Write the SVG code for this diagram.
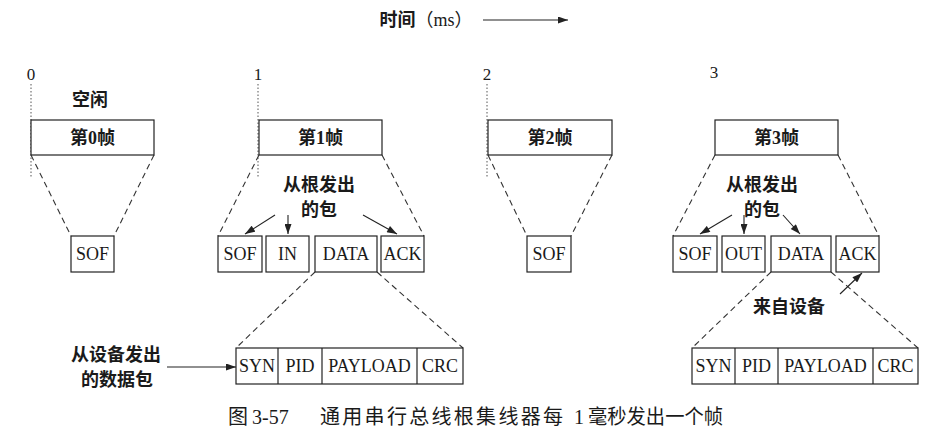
<svg xmlns="http://www.w3.org/2000/svg" width="938" height="439" viewBox="0 0 938 439">
<defs>
<style>
.bx{fill:#fff;stroke:#222;stroke-width:1.2}
.dash{fill:none;stroke:#333;stroke-width:1.1;stroke-dasharray:6,4}
.dot{fill:none;stroke:#555;stroke-width:1;stroke-dasharray:1.5,2}
.arr{fill:none;stroke:#222;stroke-width:1.1;marker-end:url(#ah)}
.sep{stroke:#222;stroke-width:1.2}
.lb{font-family:"Liberation Serif","Noto Sans CJK SC",serif;font-weight:bold;font-size:18px;fill:#1a1a1a;text-anchor:middle}
.pk{font-family:"Liberation Serif",serif;font-size:18px;fill:#1a1a1a;text-anchor:middle}
.num{font-family:"Liberation Serif",serif;font-size:17px;fill:#1a1a1a;text-anchor:middle}
.cap{font-family:"Liberation Serif","Noto Sans CJK SC",serif;font-size:20px;fill:#1a1a1a}
</style>
<marker id="ah" viewBox="0 0 10 7" refX="10" refY="3.5" markerWidth="11" markerHeight="7" markerUnits="userSpaceOnUse" orient="auto">
<path d="M0,0 L10,3.5 L0,7 z" fill="#222"/>
</marker>
</defs>
<rect width="938" height="439" fill="#fff"/>

<g id="time-axis">
<text class="lb" x="426" y="26">时间<tspan font-weight="normal">（ms）</tspan></text>
<text class="num" x="31" y="80">0</text>
<text class="num" x="258" y="80">1</text>
<text class="num" x="487" y="80">2</text>
<text class="num" x="714" y="78">3</text>
</g>

<g id="connectors">
<line class="arr" x1="483" y1="20" x2="568" y2="20"/>
<line class="dot" x1="31" y1="84" x2="31" y2="178"/>
<line class="dot" x1="258" y1="84" x2="258" y2="178"/>
<line class="dot" x1="487" y1="84" x2="487" y2="178"/>
<line class="dash" x1="31" y1="155" x2="71" y2="236"/>
<line class="dash" x1="154" y1="155" x2="114" y2="236"/>
<line class="dash" x1="259" y1="155" x2="218" y2="236"/>
<line class="dash" x1="382" y1="155" x2="424" y2="236"/>
<line class="arr" x1="275" y1="215" x2="245" y2="234"/>
<line class="arr" x1="288" y1="215" x2="288" y2="234"/>
<line class="arr" x1="363" y1="215" x2="397" y2="234"/>
<line class="dash" x1="315" y1="272" x2="236" y2="348"/>
<line class="dash" x1="377" y1="272" x2="463" y2="348"/>
<line class="arr" x1="167" y1="367" x2="236" y2="367"/>
<line class="dash" x1="488" y1="155" x2="527" y2="236"/>
<line class="dash" x1="612" y1="155" x2="571" y2="236"/>
<line class="dash" x1="715" y1="155" x2="673" y2="236"/>
<line class="dash" x1="838" y1="155" x2="879" y2="236"/>
<line class="arr" x1="732" y1="215" x2="700" y2="234"/>
<line class="arr" x1="744" y1="215" x2="744" y2="234"/>
<line class="arr" x1="783" y1="215" x2="800" y2="234"/>
<line class="dash" x1="771" y1="272" x2="692" y2="348"/>
<line class="dash" x1="831" y1="272" x2="918" y2="348"/>
<line class="arr" x1="840" y1="294" x2="862" y2="273"/>
</g>

<g id="frame0">
<text class="lb" x="90" y="106">空闲</text>
<rect class="bx" x="31" y="120" width="123" height="35"/>
<text class="lb" x="92.5" y="144">第0帧</text>
</g>
<g id="frame0-sof">
<rect class="bx" x="71" y="236" width="43" height="36"/>
<text class="pk" x="92.5" y="260">SOF</text>
</g>

<g id="frame1">
<rect class="bx" x="259" y="120" width="123" height="35"/>
<text class="lb" x="320.5" y="144">第1帧</text>
</g>
<g id="label-root1">
<text class="lb" x="319" y="191">从根发出</text>
<text class="lb" x="319" y="216">的包</text>
</g>
<g id="frame1-packets">
<rect class="bx" x="218" y="236" width="44" height="36"/>
<text class="pk" x="240" y="260">SOF</text>
<rect class="bx" x="266" y="236" width="43" height="36"/>
<text class="pk" x="287.5" y="260">IN</text>
<rect class="bx" x="315" y="236" width="62" height="36"/>
<text class="pk" x="346" y="260">DATA</text>
<rect class="bx" x="381" y="236" width="43" height="36"/>
<text class="pk" x="402.5" y="260">ACK</text>
</g>
<g id="label-device-data">
<text class="lb" x="116" y="361">从设备发出</text>
<text class="lb" x="117" y="386">的数据包</text>
</g>
<g id="data-packet1">
<rect class="bx" x="236" y="348" width="227" height="36"/>
<line class="sep" x1="278" y1="348" x2="278" y2="384"/>
<line class="sep" x1="322" y1="348" x2="322" y2="384"/>
<line class="sep" x1="417" y1="348" x2="417" y2="384"/>
<text class="pk" x="257" y="372">SYN</text>
<text class="pk" x="300" y="372">PID</text>
<text class="pk" x="369.5" y="372">PAYLOAD</text>
<text class="pk" x="440" y="372">CRC</text>
</g>

<g id="frame2">
<rect class="bx" x="488" y="120" width="124" height="35"/>
<text class="lb" x="550" y="144">第2帧</text>
</g>
<g id="frame2-sof">
<rect class="bx" x="527" y="236" width="44" height="36"/>
<text class="pk" x="549" y="260">SOF</text>
</g>

<g id="frame3">
<rect class="bx" x="715" y="120" width="123" height="35"/>
<text class="lb" x="776.5" y="144">第3帧</text>
</g>
<g id="label-root3">
<text class="lb" x="762" y="191">从根发出</text>
<text class="lb" x="762" y="216">的包</text>
</g>
<g id="frame3-packets">
<rect class="bx" x="673" y="236" width="44" height="36"/>
<text class="pk" x="695" y="260">SOF</text>
<rect class="bx" x="722" y="236" width="43" height="36"/>
<text class="pk" x="743.5" y="260">OUT</text>
<rect class="bx" x="771" y="236" width="60" height="36"/>
<text class="pk" x="801" y="260">DATA</text>
<rect class="bx" x="836" y="236" width="43" height="36"/>
<text class="pk" x="857.5" y="260">ACK</text>
</g>
<g id="label-from-device">
<text class="lb" x="789" y="313">来自设备</text>
</g>
<g id="data-packet3">
<rect class="bx" x="692" y="348" width="226" height="36"/>
<line class="sep" x1="735" y1="348" x2="735" y2="384"/>
<line class="sep" x1="778" y1="348" x2="778" y2="384"/>
<line class="sep" x1="873" y1="348" x2="873" y2="384"/>
<text class="pk" x="713.5" y="372">SYN</text>
<text class="pk" x="756.5" y="372">PID</text>
<text class="pk" x="825.5" y="372">PAYLOAD</text>
<text class="pk" x="895.5" y="372">CRC</text>
</g>

<g id="caption">
<text class="cap" x="228" y="424">图 <tspan x="252">3-57</tspan><tspan x="320" textLength="243" lengthAdjust="spacing">通用串行总线根集线器每</tspan><tspan x="574">1</tspan><tspan x="588" textLength="135" lengthAdjust="spacingAndGlyphs">毫秒发出一个帧</tspan></text>
</g>
</svg>
